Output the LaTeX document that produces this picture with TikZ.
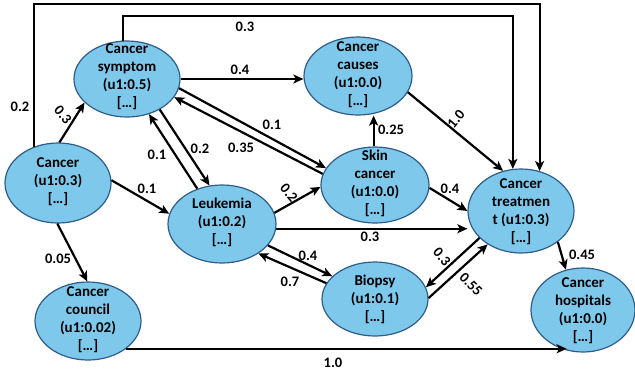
\documentclass[tikz,border=0pt]{standalone}
\usepackage{fontspec}
\setmainfont{Carlito}
\usetikzlibrary{shapes.geometric,arrows.meta}
\definecolor{nodefill}{HTML}{7EC8EC}
\definecolor{nodeline}{HTML}{2F5D8A}
\newcommand\nt[2][4]{\raisebox{-#1pt}{\smash{\begin{tabular}{@{}c@{}}#2\end{tabular}}}}
\begin{document}
\begin{tikzpicture}[x=1pt,y=-1pt,
  state/.style={ellipse, draw=nodeline, line width=1.2pt, fill=nodefill, inner sep=0pt, font=\fontsize{15}{18}\selectfont\bfseries},
  arc/.style={line width=2.2pt, -{Stealth[length=10pt,width=9pt,inset=2.5pt]}},
  lbl/.style={font=\fontsize{14.5}{17}\selectfont\bfseries, inner sep=0pt}]
\fill[white] (0,0) rectangle (635,376);
\useasboundingbox (0,0) rectangle (635,376);

\node[state, minimum width=106pt, minimum height=80pt] (can) at (58,183) {\nt[5]{Cancer\\(u1:0.3)\\{[…]}}};
\node[state, minimum width=106pt, minimum height=76pt] (sym) at (127,79) {\nt[3]{Cancer\\symptom\\(u1:0.5)\\{[…]}}};
\node[state, minimum width=108pt, minimum height=78pt] (cau) at (358,76) {\nt[5]{Cancer\\causes\\(u1:0.0)\\{[…]}}};
\node[state, minimum width=108pt, minimum height=76pt] (skin) at (375,185) {\nt[4.5]{Skin\\cancer\\(u1:0.0)\\{[…]}}};
\node[state, minimum width=108pt, minimum height=78pt] (leu) at (222,224) {\nt[4.5]{Leukemia\\(u1:0.2)\\{[…]}}};
\node[state, minimum width=106pt, minimum height=84pt] (trt) at (521,211) {\nt[8.5]{Cancer\\treatmen\\t (u1:0.3)\\{[…]}}};
\node[state, minimum width=106pt, minimum height=74pt] (bio) at (375,299) {\nt[8.5]{Biopsy\\(u1:0.1)\\{[…]}}};
\node[state, minimum width=104pt, minimum height=84pt] (hos) at (583,310) {\nt[8.5]{Cancer\\hospitals\\(u1:0.0)\\{[…]}}};
\node[state, minimum width=106pt, minimum height=78pt] (cou) at (88,321) {\nt[5.5]{Cancer\\council\\(u1:0.02)\\{[…]}}};

\coordinate (topA) at (0,4);
\coordinate (topB) at (0,16);
\draw[arc] (can.123) -- (can.123 |- topA) -| (trt.65);
\draw[arc] (sym.96) -- (sym.96 |- topB) -| (trt.101);
\draw[arc] (can.88) -- (sym.209);
\draw[arc] (sym.east) -- (sym.east -| cau.west);
\draw[arc] (sym.-10) -- (skin.161);
\draw[arc] (skin.168) -- (sym.-21);
\draw[arc] (sym.-43) -- (leu.108);
\draw[arc] (leu.125) -- (sym.-58);
\draw[arc] (can.3) -- (leu.169);
\draw[arc] (can.-91) -- (cou.91);
\draw[arc] (leu.12) -- (skin.182);
\draw[arc] (leu.-5) -- (leu.-5 -| trt.west);
\draw[arc] (leu.-25) -- (bio.152);
\draw[arc] (bio.162) -- (leu.-39);
\draw[arc] (skin.92) -- (skin.92 |- cau.south);
\draw[arc] (cau.-18) -- (trt.114);
\draw[arc] (skin.-3) -- (trt.180);
\draw[arc] (trt.213) -- (bio.13);
\draw[arc] (bio.1) -- (trt.225);
\draw[arc] (trt.-40) -- (hos.113);
\draw[arc] (cou.-36) -- (cou.-36 -| hos.248);

\node[lbl] (w1) at (20,107) {0.2};
\node[lbl] (w2) at (245,27) {0.3};
\node[lbl] (w3) at (240,70) {0.4};
\node[lbl, rotate=-50] (w4) at (63,115) {0.3};
\node[lbl] (w5) at (272,125) {0.1};
\node[lbl] (w6) at (241,148) {0.35};
\node[lbl] (w7) at (200,149) {0.2};
\node[lbl] (w8) at (157,155) {0.1};
\node[lbl] (w9) at (147,189) {0.1};
\node[lbl] (w10) at (58,259) {0.05};
\node[lbl, rotate=-50] (w11) at (289,193) {0.2};
\node[lbl] (w12) at (370,237) {0.3};
\node[lbl] (w13) at (308,256) {0.4};
\node[lbl] (w14) at (290,282) {0.7};
\node[lbl] (w15) at (391,130) {0.25};
\node[lbl, rotate=50] (w16) at (456,119) {1.0};
\node[lbl] (w17) at (450,189) {0.4};
\node[lbl, rotate=-50] (w18) at (442,257) {0.3};
\node[lbl, rotate=-45] (w19) at (471,284) {0.55};
\node[lbl] (w20) at (582,255) {0.45};
\node[lbl] (w21) at (333,363) {1.0};
\end{tikzpicture}
\end{document}
